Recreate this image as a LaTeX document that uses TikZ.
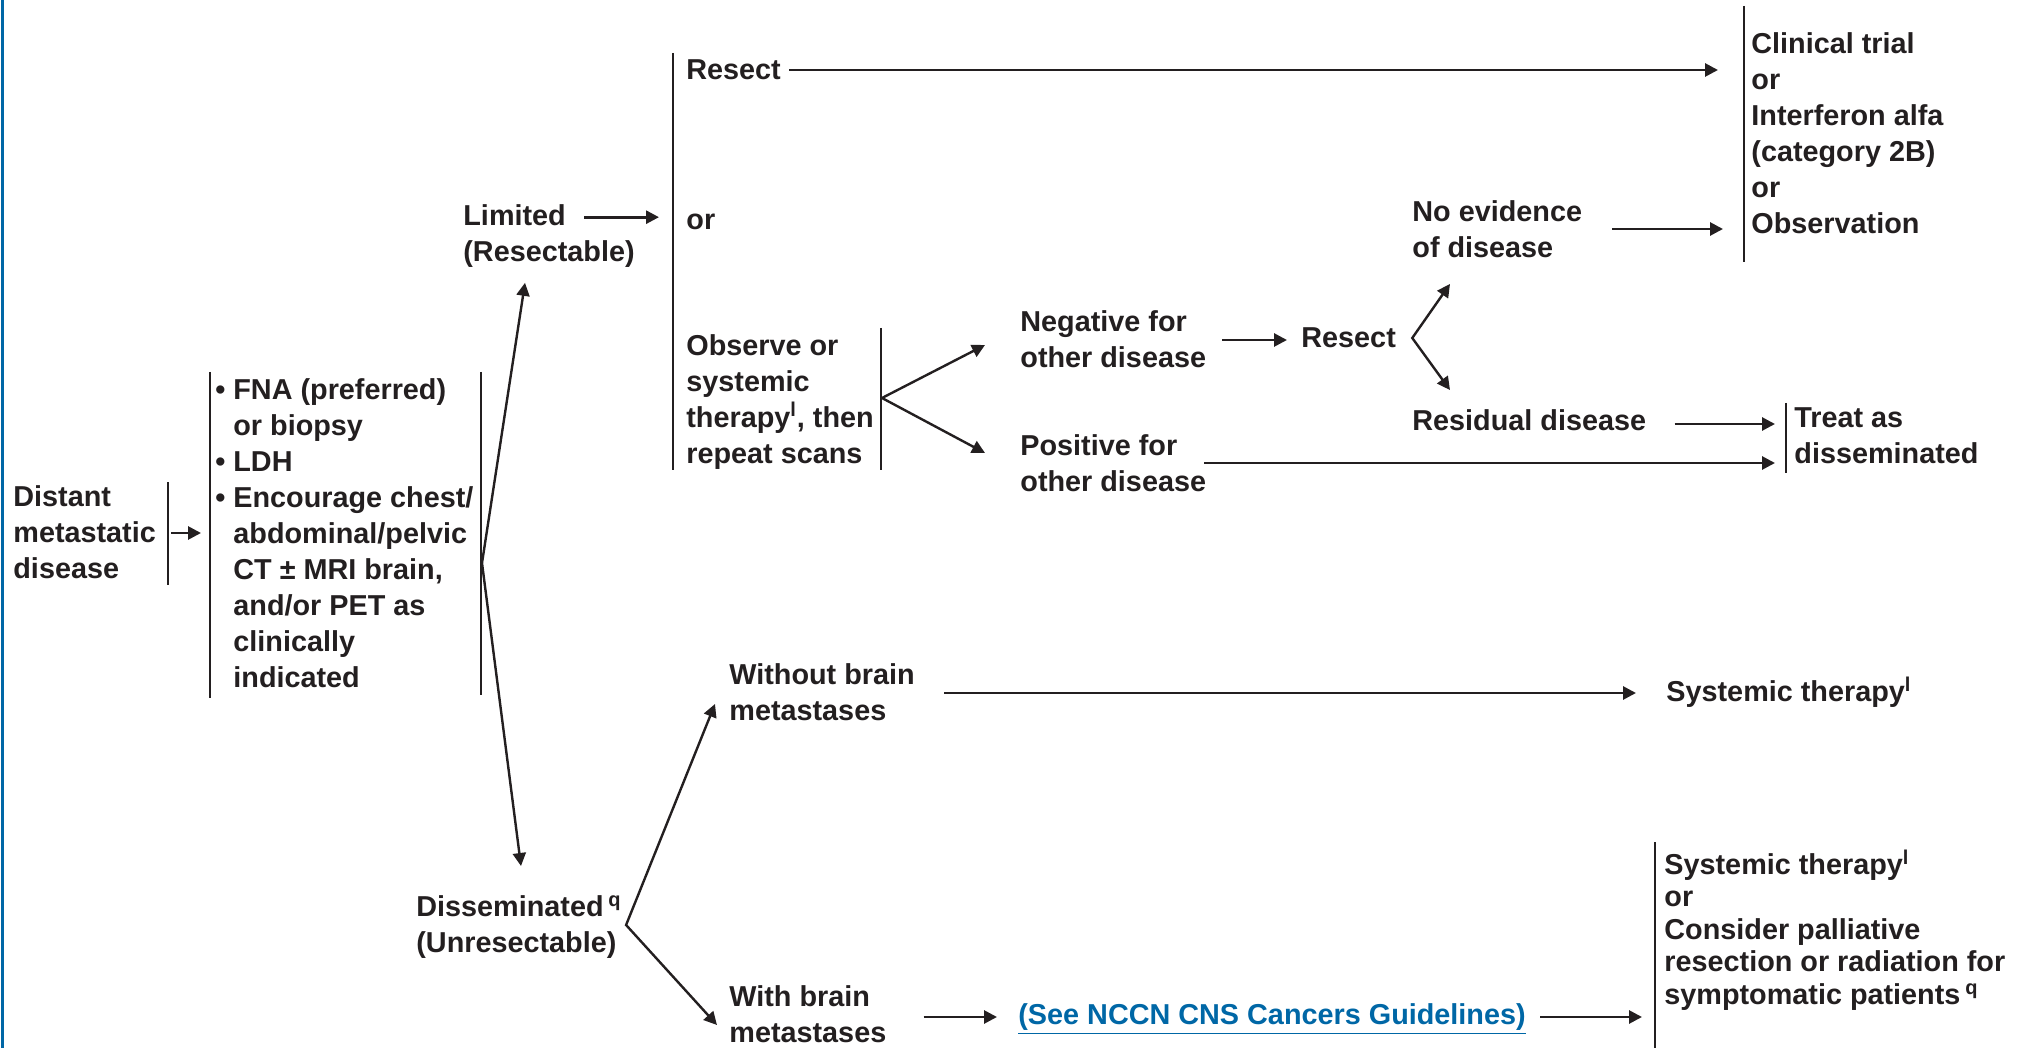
\documentclass[tikz,border=0pt]{standalone}
\usepackage{fontspec}
\setmainfont{Liberation Sans}
\usetikzlibrary{arrows.meta,calc}
\definecolor{nccnblue}{RGB}{0,103,166}
\definecolor{ink}{RGB}{35,31,32}
\newcommand{\bul}{\makebox[9pt][l]{\textbullet}}
\newcommand{\ind}{\hspace*{9pt}}
\tikzset{
	box/.style={anchor=west, align=left, inner sep=0pt, text=ink, font=\bfseries\fontsize{14.4}{18}\selectfont},
	tightbox/.style={box, font=\bfseries\fontsize{14.4}{16.25}\selectfont},
	arr/.style={draw=ink, line width=1.4pt, -{Triangle[length=6.5pt,width=6.5pt]}},
	twoarr/.style={draw=ink, line width=1.2pt, {Triangle[length=6.5pt,width=6.5pt]}-{Triangle[length=6.5pt,width=6.5pt]}},
	bar/.style={draw=ink, line width=1.1pt},
}
\begin{document}
\begin{tikzpicture}[x=0.5pt, y=-0.5pt]
	\useasboundingbox (0,0) rectangle (2026,1048);
	\fill[nccnblue] (1,0) rectangle (3.5,1048);

	% left column
	\node[box] (dist) at (13,532) {Distant\\metastatic\\disease};
	\node[box] (fna) at (215,533) {\bul FNA (preferred)\\\ind or biopsy\\\bul LDH\\\bul Encourage chest/\\\ind abdominal/pelvic\\\ind CT ± MRI brain,\\\ind and/or PET as\\\ind clinically\\\ind indicated};
	\node[box] (lim) at (463,236) {Limited\\(Resectable)};
	\node[box] (diss) at (416,927) {Disseminated\,\textsuperscript{q}\\(Unresectable)};

	% limited branch
	\node[box] (rsct) at (686,70) {Resect};
	\node[box] (orr) at (686,222) {or};
	\node[box] (obs) at (686,402) {Observe or\\systemic\\therapy\textsuperscript{l}, then\\repeat scans};
	\node[box] (neg) at (1020,339) {Negative for\\other disease};
	\node[box] (pos) at (1020,463) {Positive for\\other disease};
	\node[box] (rsct2) at (1301,338) {Resect};
	\node[box] (ned) at (1412,229) {No evidence\\of disease};
	\node[box] (resid) at (1412,420) {Residual disease};
	\node[box] (clin) at (1751,133) {Clinical trial\\or\\Interferon alfa\\(category 2B)\\or\\Observation};
	\node[box] (treat) at (1794,436) {Treat as\\disseminated};

	% disseminated branch
	\node[box] (wout) at (729,692) {Without brain\\metastases};
	\node[box] (sysa) at (1666,692) {Systemic therapy\textsuperscript{l}};
	\node[box] (wbrain) at (729,1014) {With brain\\metastases};
	\node[box, text=nccnblue] (see) at (1018,1019) {\underline{(See NCCN CNS Cancers Guidelines)}};
	\node[tightbox] (sysb) at (1664,930) {Systemic therapy\textsuperscript{l}\\or\\Consider palliative\\resection or radiation for\\symptomatic patients\,\textsuperscript{q}};

	% bars
	\draw[bar] (168,482) -- (168,585);
	\draw[bar] (210,372) -- (210,698);
	\draw[bar] (481,372) -- (481,695);
	\draw[bar] (673,53) -- (673,470);
	\draw[bar] (881,328) -- (881,470);
	\draw[bar] (1744,6) -- (1744,262);
	\draw[bar] (1786,403) -- (1786,473);
	\draw[bar] (1655,842) -- (1655,1048);

	\coordinate (fanA) at (482,563);
	\coordinate (fanB) at (882,398);

	% connectors
	\draw[arr] ($(dist.east)+(15,1)$) -- ($(dist.east -| fna.west)+(-14,1)$);
	\draw[arr, line width=1.2pt] (fanA) -- ($(lim.south west)+(62,15)$);
	\draw[arr, line width=1.2pt] (fanA) -- ($(diss.north west)+(105,-29)$);
	\draw[arr] ($(lim.north west)+(121,13)$) -- ($(lim.north west)+(196,13)$);
	\draw[arr] ($(rsct.east)+(8,0)$) -- ($(rsct.east -| clin.west)+(-33,0)$);
	\draw[arr, line width=1.2pt] (fanB) -- ($(neg.west)+(-35,6)$);
	\draw[arr, line width=1.2pt] (fanB) -- ($(pos.west)+(-35,-10)$);
	\draw[arr] ($(neg.east)+(16,1)$) -- ($(rsct2.west)+(-14,2)$);
	\draw[twoarr] ($(ned.south west)+(38,26)$) -- ($(rsct2.east)+(16,0)$) -- ($(resid.north west)+(38,-19)$);
	\draw[arr] ($(ned.east)+(30,0)$) -- ($(ned.east -| clin.west)+(-28,0)$);
	\draw[arr] ($(resid.east)+(28,4)$) -- ($(resid.east -| treat.west)+(-19,4)$);
	\draw[arr] ($(pos.east)+(-2,0)$) -- ($(pos.east -| treat.west)+(-19,0)$);
	\draw[arr] ($(wout.east)+(29,1)$) -- ($(sysa.west)+(-30,1)$);
	\draw[twoarr] ($(wout.south west)+(-14,-17)$) -- ($(diss.east)+(4,-2)$) -- ($(wbrain.west)+(-12,11)$);
	\draw[arr] ($(wbrain.east)+(37,3)$) -- ($(see.west)+(-21,-2)$);
	\draw[arr] ($(see.east)+(14,-2)$) -- ($(see.east -| sysb.west)+(-22,-2)$);
\end{tikzpicture}
\end{document}
